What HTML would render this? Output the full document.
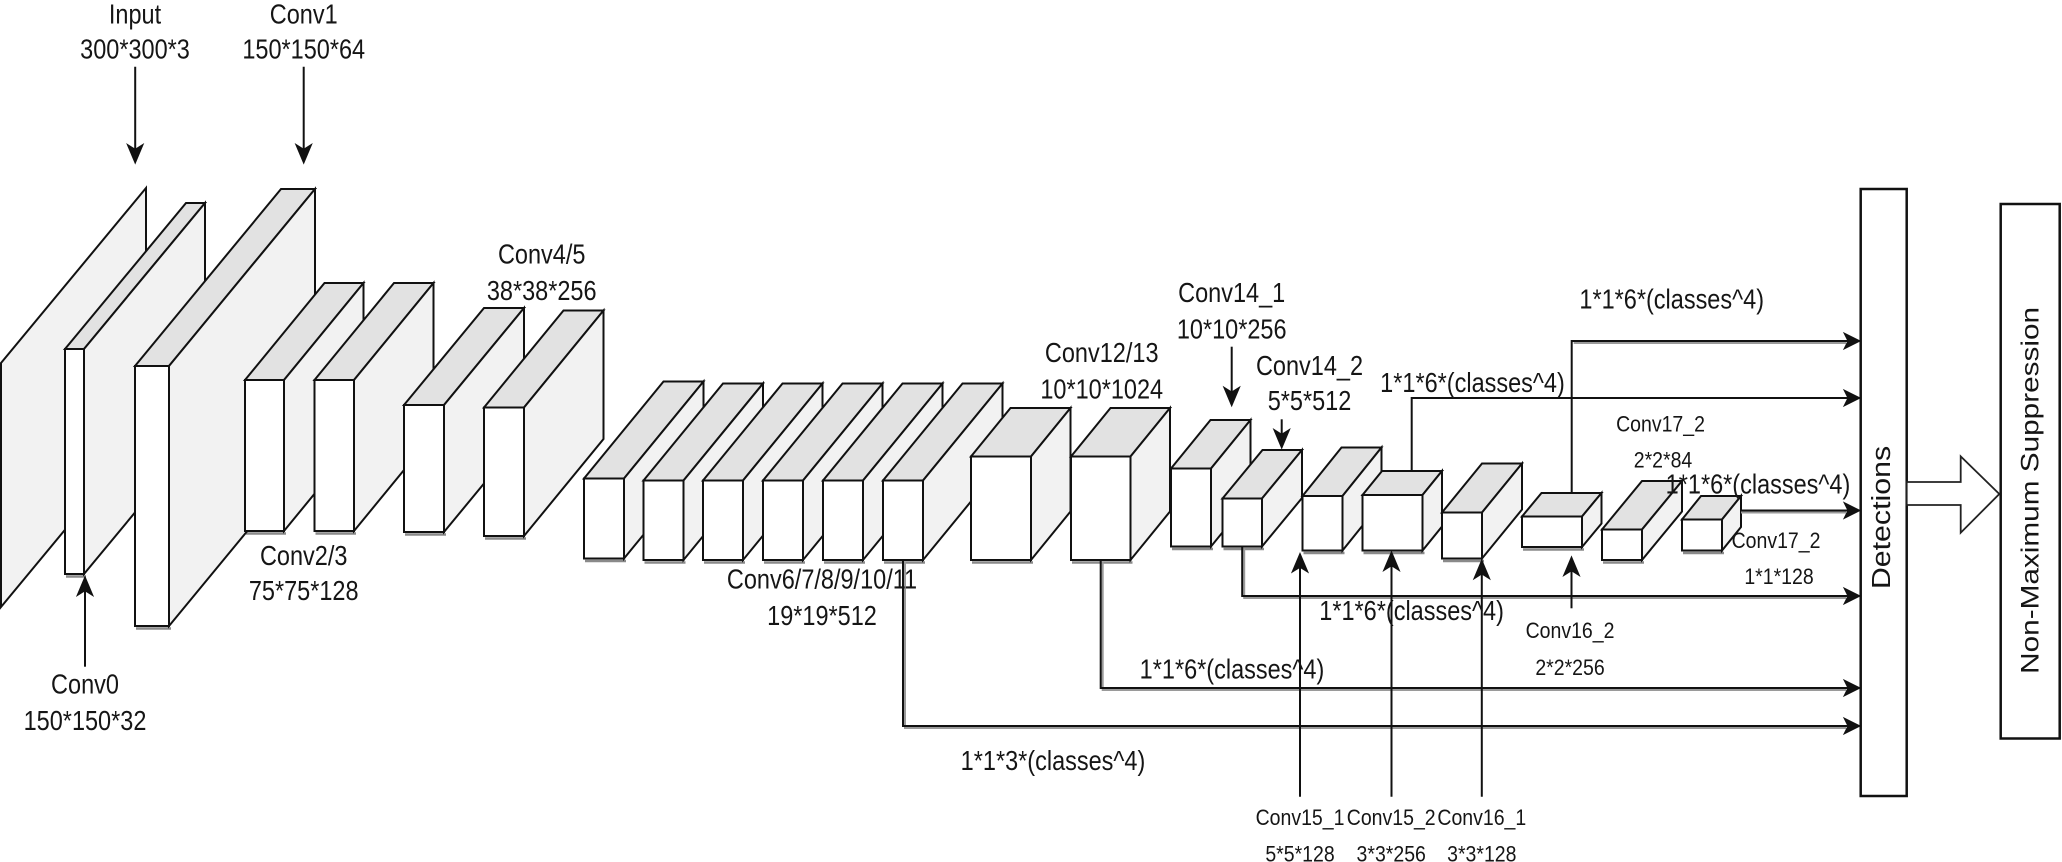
<!DOCTYPE html>
<html><head><meta charset="utf-8"><style>
html,body{margin:0;padding:0;background:#fff;}
svg{display:block;}
.m{font-family:"Liberation Sans",Arial,sans-serif;font-size:23.5px;fill:#151515;text-anchor:middle;}
.sm{font-family:"Liberation Sans",Arial,sans-serif;font-size:19.5px;fill:#151515;text-anchor:middle;}
.r{font-family:"Liberation Sans",Arial,sans-serif;font-size:25.5px;fill:#151515;text-anchor:middle;}
.f{fill:#fff;}
.t{fill:#e2e2e2;}
.s{fill:#f2f2f2;}
</style></head><body>
<svg width="2062" height="862" viewBox="0 0 2062 862" xmlns="http://www.w3.org/2000/svg">
<rect width="2062" height="862" fill="#fff"/>
<!-- bottom shadows -->
<g stroke="#8a8a8a" stroke-width="2.5" fill="none">
<line x1="66" y1="576.5" x2="86" y2="576.5"/>
<line x1="136" y1="628.5" x2="171" y2="628.5"/>
<line x1="246" y1="533.5" x2="286" y2="533.5"/>
<line x1="315.5" y1="533.5" x2="356" y2="533.5"/>
<line x1="405" y1="534.5" x2="446" y2="534.5"/>
<line x1="485" y1="538.5" x2="526" y2="538.5"/>
<line x1="585" y1="561" x2="626" y2="561"/>
<line x1="644.5" y1="562.5" x2="685.5" y2="562.5"/>
<line x1="704" y1="562.5" x2="745" y2="562.5"/>
<line x1="764" y1="562.5" x2="805" y2="562.5"/>
<line x1="824" y1="562.5" x2="865" y2="562.5"/>
<line x1="884" y1="562.5" x2="925" y2="562.5"/>
<line x1="972" y1="562.5" x2="1033" y2="562.5"/>
<line x1="1072" y1="562.5" x2="1132.5" y2="562.5"/>
<line x1="1172" y1="549" x2="1213" y2="549"/>
<line x1="1223.5" y1="549" x2="1264" y2="549"/>
<line x1="1303.5" y1="553" x2="1344.5" y2="553"/>
<line x1="1363.5" y1="553" x2="1424.5" y2="553"/>
<line x1="1443" y1="561" x2="1484" y2="561"/>
<line x1="1523" y1="549.5" x2="1584" y2="549.5"/>
<line x1="1603" y1="562.5" x2="1644" y2="562.5"/>
<line x1="1683" y1="553" x2="1724" y2="553"/>
</g>
<g stroke="#111" stroke-width="2" stroke-linejoin="miter">
<!-- Input slab -->
<polygon class="s" points="1,363 146,188 146,432 1,607"/>
<!-- Conv0 -->
<polygon class="t" points="65,349 186,203 205,203 84,349"/>
<polygon class="s" points="84,349 205,203 205,428 84,574"/>
<rect class="f" x="65" y="349" width="19" height="225"/>
<!-- Conv1 -->
<polygon class="t" points="135,366 281,189 315,189 169,366"/>
<polygon class="s" points="169,366 315,189 315,449 169,626"/>
<rect class="f" x="135" y="366" width="34" height="260"/>
<!-- Conv2 -->
<polygon class="t" points="245,380 324.5,283 363.5,283 284,380"/>
<polygon class="s" points="284,380 363.5,283 363.5,434 284,531"/>
<rect class="f" x="245" y="380" width="39" height="151"/>
<!-- Conv3 -->
<polygon class="t" points="314.5,380 394,283 433.5,283 354,380"/>
<polygon class="s" points="354,380 433.5,283 433.5,434 354,531"/>
<rect class="f" x="314.5" y="380" width="39.5" height="151"/>
<!-- Conv4 -->
<polygon class="t" points="404,405 484,308 524,308 444,405"/>
<polygon class="s" points="444,405 524,308 524,435 444,532"/>
<rect class="f" x="404" y="405" width="40" height="127"/>
<!-- Conv5 -->
<polygon class="t" points="484,407.5 563.5,310.5 603.5,310.5 524,407.5"/>
<polygon class="s" points="524,407.5 603.5,310.5 603.5,439 524,536"/>
<rect class="f" x="484" y="407.5" width="40" height="128.5"/>
<!-- Conv6..11 -->
<polygon class="t" points="584,478.5 663.5,381.5 703.5,381.5 624,478.5"/>
<polygon class="s" points="624,478.5 703.5,381.5 703.5,461.5 624,558.5"/>
<rect class="f" x="584" y="478.5" width="40" height="80"/>

<polygon class="t" points="643.5,480.5 723,383.5 763,383.5 683.5,480.5"/>
<polygon class="s" points="683.5,480.5 763,383.5 763,463 683.5,560"/>
<rect class="f" x="643.5" y="480.5" width="40" height="79.5"/>

<polygon class="t" points="703,480.5 782.5,383.5 822.5,383.5 743,480.5"/>
<polygon class="s" points="743,480.5 822.5,383.5 822.5,463 743,560"/>
<rect class="f" x="703" y="480.5" width="40" height="79.5"/>

<polygon class="t" points="763,480.5 842.5,383.5 882.5,383.5 803,480.5"/>
<polygon class="s" points="803,480.5 882.5,383.5 882.5,463 803,560"/>
<rect class="f" x="763" y="480.5" width="40" height="79.5"/>

<polygon class="t" points="823,480.5 902.5,383.5 942.5,383.5 863,480.5"/>
<polygon class="s" points="863,480.5 942.5,383.5 942.5,463 863,560"/>
<rect class="f" x="823" y="480.5" width="40" height="79.5"/>

<polygon class="t" points="883,480.5 962.5,383.5 1002.5,383.5 923,480.5"/>
<polygon class="s" points="923,480.5 1002.5,383.5 1002.5,463 923,560"/>
<rect class="f" x="883" y="480.5" width="40" height="79.5"/>
<!-- Conv12 -->
<polygon class="t" points="971,456.5 1010.5,408 1070.5,408 1031,456.5"/>
<polygon class="s" points="1031,456.5 1070.5,408 1070.5,511.5 1031,560"/>
<rect class="f" x="971" y="456.5" width="60" height="103.5"/>
<!-- Conv13 -->
<polygon class="t" points="1071,456.5 1110.5,408 1170,408 1130.5,456.5"/>
<polygon class="s" points="1130.5,456.5 1170,408 1170,511.5 1130.5,560"/>
<rect class="f" x="1071" y="456.5" width="59.5" height="103.5"/>
<!-- Conv14_1 -->
<polygon class="t" points="1171,468.5 1210.5,420 1250.5,420 1211,468.5"/>
<polygon class="s" points="1211,468.5 1250.5,420 1250.5,498 1211,546.5"/>
<rect class="f" x="1171" y="468.5" width="40" height="78"/>
<!-- Conv14_2 -->
<polygon class="t" points="1222.5,498.5 1262.5,450 1302,450 1262,498.5"/>
<polygon class="s" points="1262,498.5 1302,450 1302,498 1262,546.5"/>
<rect class="f" x="1222.5" y="498.5" width="39.5" height="48"/>
<!-- Conv15_1 -->
<polygon class="t" points="1302.5,496 1341.5,447.5 1381.5,447.5 1342.5,496"/>
<polygon class="s" points="1342.5,496 1381.5,447.5 1381.5,502 1342.5,550.5"/>
<rect class="f" x="1302.5" y="496" width="40" height="54.5"/>
<!-- Conv15_2 -->
<polygon class="t" points="1362.5,495 1382,471 1442,471 1422.5,495"/>
<polygon class="s" points="1422.5,495 1442,471 1442,526.5 1422.5,550.5"/>
<rect class="f" x="1362.5" y="495" width="60" height="55.5"/>
<!-- Conv16_1 -->
<polygon class="t" points="1442,512.5 1482,463.5 1522,463.5 1482,512.5"/>
<polygon class="s" points="1482,512.5 1522,463.5 1522,509.5 1482,558.5"/>
<rect class="f" x="1442" y="512.5" width="40" height="46"/>
<!-- Conv16_2 -->
<polygon class="t" points="1522,516.5 1541.5,493 1601.5,493 1582,516.5"/>
<polygon class="s" points="1582,516.5 1601.5,493 1601.5,523.5 1582,547"/>
<rect class="f" x="1522" y="516.5" width="60" height="30.5"/>
<!-- Conv17_1 -->
<polygon class="t" points="1602,529.5 1642,481 1682,481 1642,529.5"/>
<polygon class="s" points="1642,529.5 1682,481 1682,511.5 1642,560"/>
<rect class="f" x="1602" y="529.5" width="40" height="30.5"/>
<!-- Conv17_2 -->
<polygon class="t" points="1682,519.5 1701,496 1741,496 1722,519.5"/>
<polygon class="s" points="1722,519.5 1741,496 1741,527 1722,550.5"/>
<rect class="f" x="1682" y="519.5" width="40" height="31"/>
</g>

<!-- connector shadows -->
<g fill="none" stroke="#9a9a9a" stroke-width="2">
<polyline points="905,562 905,728 1846,728"/>
<polyline points="1102.7,562 1102.7,690 1846,690"/>
<polyline points="1244.2,548.5 1244.2,598 1846,598"/>
<polyline points="1573.7,343 1846,343"/>
<polyline points="1741,512.5 1846,512.5"/>
</g>
<!-- connectors -->
<g fill="none" stroke="#111" stroke-width="2">
<polyline points="903,560 903,726 1848,726"/>
<polyline points="1100.7,560 1100.7,688 1848,688"/>
<polyline points="1242.2,546.5 1242.2,596 1848,596"/>
<polyline points="1411.7,471 1411.7,398 1848,398"/>
<polyline points="1571.7,493 1571.7,341 1848,341"/>
<polyline points="1741,510.5 1848,510.5"/>
<line x1="135.2" y1="66.7" x2="135.2" y2="152"/>
<line x1="303.7" y1="66.7" x2="303.7" y2="152"/>
<line x1="1231.7" y1="346.7" x2="1231.7" y2="395"/>
<line x1="1281.7" y1="419.3" x2="1281.7" y2="437"/>
<line x1="85" y1="666.7" x2="85" y2="588"/>
<line x1="1300" y1="796.7" x2="1300" y2="565"/>
<line x1="1391.5" y1="796.7" x2="1391.5" y2="563"/>
<line x1="1481.8" y1="796.7" x2="1481.8" y2="571"/>
<line x1="1571.5" y1="608.3" x2="1571.5" y2="568"/>
</g>
<!-- arrowheads -->
<g fill="#111" stroke="#111" stroke-width="1">
<polygon points="1860,726 1844,718 1848,726 1844,734"/>
<polygon points="1860,688 1844,680 1848,688 1844,696"/>
<polygon points="1860,596 1844,588 1848,596 1844,604"/>
<polygon points="1860,398 1844,390 1848,398 1844,406"/>
<polygon points="1860,341 1844,333 1848,341 1844,349"/>
<polygon points="1860,510.5 1844,502.5 1848,510.5 1844,518.5"/>
<polygon points="135.2,163.3 127.2,144.3 135.2,149.3 143.2,144.3"/>
<polygon points="303.7,163.3 295.7,144.3 303.7,149.3 311.7,144.3"/>
<polygon points="1231.7,406 1223.7,387 1231.7,392 1239.7,387"/>
<polygon points="1281.7,448.3 1273.7,429.3 1281.7,434.3 1289.7,429.3"/>
<polygon points="85,576.7 77,595.7 85,590.7 93,595.7"/>
<polygon points="1300,553.3 1292,572.3 1300,567.3 1308,572.3"/>
<polygon points="1391.5,551.7 1383.5,570.7 1391.5,565.7 1399.5,570.7"/>
<polygon points="1481.8,560 1473.8,579 1481.8,574 1489.8,579"/>
<polygon points="1571.5,556.7 1563.5,575.7 1571.5,570.7 1579.5,575.7"/>
</g>

<!-- Detections & NMS -->
<rect x="1860.7" y="189" width="46" height="607" fill="#fff" stroke="#111" stroke-width="2.5"/>
<rect x="2000.7" y="204" width="59" height="534.5" fill="#fff" stroke="#111" stroke-width="2.5"/>
<polygon points="1906.7,482 1960.7,482 1960.7,456.4 1999.3,494 1960.7,532.7 1960.7,505 1906.7,505" fill="#fff" stroke="#222" stroke-width="1.8"/>
<text class="r" transform="translate(1880.8,517.5) scale(1,1.19) rotate(-90)" y="9.2">Detections</text>
<text class="r" transform="translate(2029.5,490.4) scale(1,1.19) rotate(-90)" y="9" style="font-size:25px">Non-Maximum Suppression</text>

<!-- main labels -->
<text class="m" transform="translate(135,13.3) scale(1,1.19)" y="8.5">Input</text>
<text class="m" transform="translate(135,48.3) scale(1,1.19)" y="8.5">300*300*3</text>
<text class="m" transform="translate(303.7,13.3) scale(1,1.19)" y="8.5">Conv1</text>
<text class="m" transform="translate(303.7,48.3) scale(1,1.19)" y="8.5">150*150*64</text>
<text class="m" transform="translate(85,683.3) scale(1,1.19)" y="8.5">Conv0</text>
<text class="m" transform="translate(85,720) scale(1,1.19)" y="8.5">150*150*32</text>
<text class="m" transform="translate(303.7,555) scale(1,1.19)" y="8.5">Conv2/3</text>
<text class="m" transform="translate(303.7,590) scale(1,1.19)" y="8.5">75*75*128</text>
<text class="m" transform="translate(541.7,253.3) scale(1,1.19)" y="8.5">Conv4/5</text>
<text class="m" transform="translate(541.7,290) scale(1,1.19)" y="8.5">38*38*256</text>
<text class="m" transform="translate(822,578.3) scale(1,1.19)" y="8.5">Conv6/7/8/9/10/11</text>
<text class="m" transform="translate(822,615) scale(1,1.19)" y="8.5">19*19*512</text>
<text class="m" transform="translate(1101.7,351.7) scale(1,1.19)" y="8.5">Conv12/13</text>
<text class="m" transform="translate(1101.7,388.3) scale(1,1.19)" y="8.5">10*10*1024</text>
<text class="m" transform="translate(1231.7,291.7) scale(1,1.19)" y="8.5">Conv14_1</text>
<text class="m" transform="translate(1231.7,328.3) scale(1,1.19)" y="8.5">10*10*256</text>
<text class="m" transform="translate(1309.5,365) scale(1,1.19)" y="8.5">Conv14_2</text>
<text class="m" transform="translate(1309.5,400) scale(1,1.19)" y="8.5">5*5*512</text>
<text class="m" transform="translate(1671.7,298.3) scale(1,1.19)" y="8.5">1*1*6*(classes^4)</text>
<text class="m" transform="translate(1472.5,381.7) scale(1,1.19)" y="8.5">1*1*6*(classes^4)</text>
<text class="m" transform="translate(1758,483.3) scale(1,1.19)" y="8.5">1*1*6*(classes^4)</text>
<text class="m" transform="translate(1411.6,610) scale(1,1.19)" y="8.5">1*1*6*(classes^4)</text>
<text class="m" transform="translate(1232,668.3) scale(1,1.19)" y="8.5">1*1*6*(classes^4)</text>
<text class="m" transform="translate(1053,760) scale(1,1.19)" y="8.5">1*1*3*(classes^4)</text>

<!-- small labels -->
<text class="sm" transform="translate(1660.5,423.3) scale(1,1.15)" y="7">Conv17_2</text>
<text class="sm" transform="translate(1663,459.3) scale(1,1.15)" y="7">2*2*84</text>
<text class="sm" transform="translate(1776,540) scale(1,1.15)" y="7">Conv17_2</text>
<text class="sm" transform="translate(1779,576) scale(1,1.15)" y="7">1*1*128</text>
<text class="sm" transform="translate(1570,630) scale(1,1.15)" y="7">Conv16_2</text>
<text class="sm" transform="translate(1570,666.7) scale(1,1.15)" y="7">2*2*256</text>
<text class="sm" transform="translate(1300,816.7) scale(1,1.15)" y="7">Conv15_1</text>
<text class="sm" transform="translate(1300,853.3) scale(1,1.15)" y="7">5*5*128</text>
<text class="sm" transform="translate(1391.2,816.7) scale(1,1.15)" y="7">Conv15_2</text>
<text class="sm" transform="translate(1391.2,853.3) scale(1,1.15)" y="7">3*3*256</text>
<text class="sm" transform="translate(1481.8,816.7) scale(1,1.15)" y="7">Conv16_1</text>
<text class="sm" transform="translate(1481.8,853.3) scale(1,1.15)" y="7">3*3*128</text>
</svg>
</body></html>
